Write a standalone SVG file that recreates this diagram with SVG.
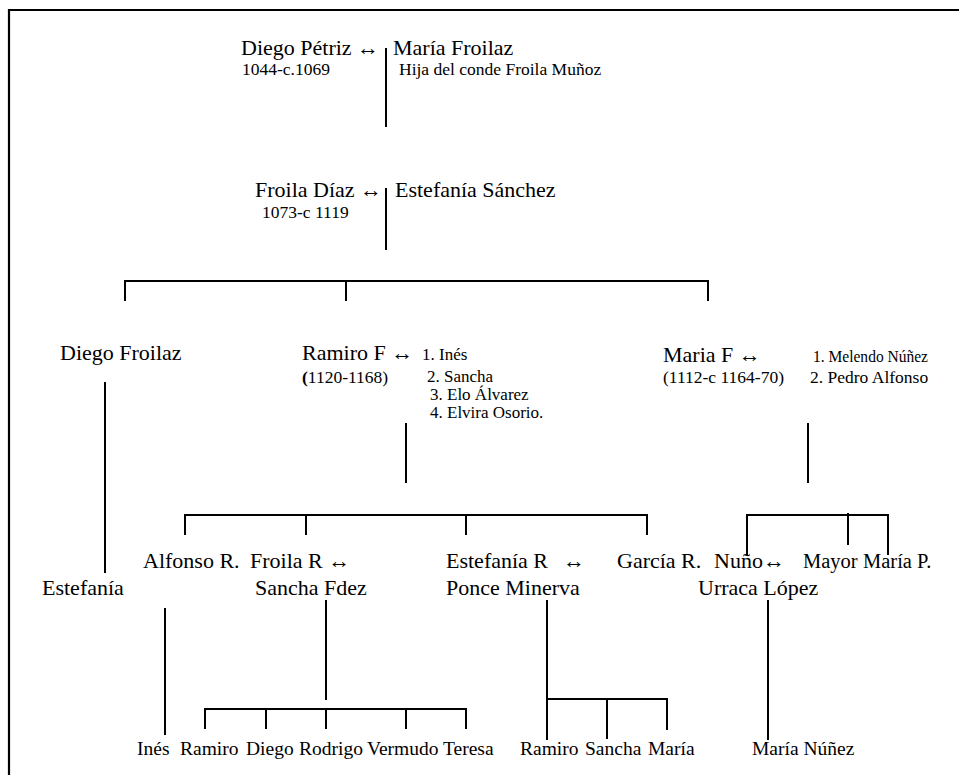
<svg xmlns="http://www.w3.org/2000/svg" width="959" height="775" viewBox="0 0 959 775">
  <style>
    text { font-family: 'Liberation Serif', 'Times New Roman', Times, 'DejaVu Serif', serif; fill: #000; }
    .big { font-size: 22px; }
    .mid { font-size: 20.5px; }
    .low { font-size: 19.5px; }
    .small { font-size: 17.5px; }
    .list { font-size: 17px; }
    .ln { stroke: #000; stroke-width: 2; fill: none; }
    .frame { stroke: #000; stroke-width: 2.2; fill: none; }
  </style>
  <rect width="959" height="775" fill="#fff"/>
  <!-- page frame: top and left rules only -->
  <path class="frame" d="M9 775 V10 H959"/>

  <g id="connectors">
    <!-- Diego Pétriz / María Froilaz to Froila Díaz -->
    <path class="ln" d="M386 48 V127"/>
    <!-- Froila Díaz family -->
    <path class="ln" d="M386 188 V250"/>
    <path class="ln" d="M125 301 V281 H708 V301 M346 281 V301"/>
    <!-- Diego Froilaz to Estefanía -->
    <path class="ln" d="M105 382 V573"/>
    <!-- Ramiro F children -->
    <path class="ln" d="M406 423 V483"/>
    <path class="ln" d="M185 535 V515 H647 V535 M306 515 V535 M466 515 V535"/>
    <!-- Maria F children -->
    <path class="ln" d="M808 423 V483"/>
    <path class="ln" d="M747 555 V515 H888 V555 M848 513 V545"/>
    <!-- Alfonso R. to Inés -->
    <path class="ln" d="M165 608 V735"/>
    <!-- Froila R / Sancha Fdez children -->
    <path class="ln" d="M326 600 V700"/>
    <path class="ln" d="M205 729 V709 H466 V729 M266 709 V729 M326 709 V729 M406 709 V729"/>
    <!-- Estefanía R / Ponce Minerva children -->
    <path class="ln" d="M547 600 V740 M547 699 H667 V730 M607 699 V739"/>
    <!-- Nuño / Urraca López to María Núñez -->
    <path class="ln" d="M768 600 V740"/>
  </g>

  <g id="diego-petriz">
    <text class="big" x="241" y="55">Diego Pétriz ↔</text>
    <text class="small" x="242" y="75">1044-c.1069</text>
  </g>
  <g id="maria-froilaz">
    <text class="big" x="393" y="55">María Froilaz</text>
    <text class="small" x="399" y="75">Hija del conde Froila Muñoz</text>
  </g>

  <g id="froila-diaz">
    <text class="big" x="255" y="197">Froila Díaz ↔</text>
    <text class="small" x="262" y="218">1073-c 1119</text>
  </g>
  <g id="estefania-sanchez">
    <text class="big" x="395" y="197">Estefanía Sánchez</text>
  </g>

  <g id="diego-froilaz">
    <text class="big" x="60" y="360">Diego Froilaz</text>
  </g>
  <g id="ramiro-f">
    <text class="big" x="302" y="360">Ramiro F ↔</text>
    <text class="small" x="302" y="383"><tspan font-weight="bold">(</tspan>1120-1168)</text>
  </g>
  <g id="ramiro-spouses">
    <text class="list" x="422" y="360">1. Inés</text>
    <text class="list" x="427" y="382">2. Sancha</text>
    <text class="list" x="430" y="400">3. Elo Álvarez</text>
    <text class="list" x="430" y="418">4. Elvira Osorio.</text>
  </g>
  <g id="maria-f">
    <text class="big" x="663" y="362">Maria F ↔</text>
    <text class="small" x="663" y="383">(1112-c 1164-70)</text>
  </g>
  <g id="maria-spouses">
    <text class="small" x="813" y="362" textLength="115" lengthAdjust="spacingAndGlyphs">1. Melendo Núñez</text>
    <text class="small" x="810" y="383">2. Pedro Alfonso</text>
  </g>

  <g id="estefania">
    <text class="big" x="42" y="595">Estefanía</text>
  </g>
  <g id="alfonso-r">
    <text class="big" x="143" y="568">Alfonso R.</text>
  </g>
  <g id="froila-r">
    <text class="big" x="250" y="568">Froila R ↔</text>
    <text class="big" x="255" y="595">Sancha Fdez</text>
  </g>
  <g id="estefania-r">
    <text class="big" x="446" y="568">Estefanía R<tspan x="563">↔</tspan></text>
    <text class="big" x="446" y="595">Ponce Minerva</text>
  </g>
  <g id="garcia-r">
    <text class="big" x="617" y="568">García R.</text>
  </g>
  <g id="nuno">
    <text class="big" x="714" y="568">Nuño↔</text>
    <text class="big" x="698" y="595">Urraca López</text>
  </g>
  <g id="mayor">
    <text class="mid" x="803" y="568">Mayor</text>
  </g>
  <g id="maria-p">
    <text class="mid" x="863" y="568">María P.</text>
  </g>

  <g id="ines">
    <text class="low" x="137" y="755">Inés</text>
  </g>
  <g id="ramiro">
    <text class="low" x="180" y="755">Ramiro</text>
  </g>
  <g id="diego">
    <text class="low" x="246" y="755">Diego</text>
  </g>
  <g id="rodrigo">
    <text class="low" x="299" y="755">Rodrigo</text>
  </g>
  <g id="vermudo">
    <text class="low" x="367" y="755">Vermudo</text>
  </g>
  <g id="teresa">
    <text class="low" x="443" y="755">Teresa</text>
  </g>
  <g id="ramiro-2">
    <text class="low" x="520" y="755">Ramiro</text>
  </g>
  <g id="sancha">
    <text class="low" x="585" y="755">Sancha</text>
  </g>
  <g id="maria">
    <text class="low" x="648" y="755">María</text>
  </g>
  <g id="maria-nunez">
    <text class="low" x="752" y="755">María Núñez</text>
  </g>
</svg>
